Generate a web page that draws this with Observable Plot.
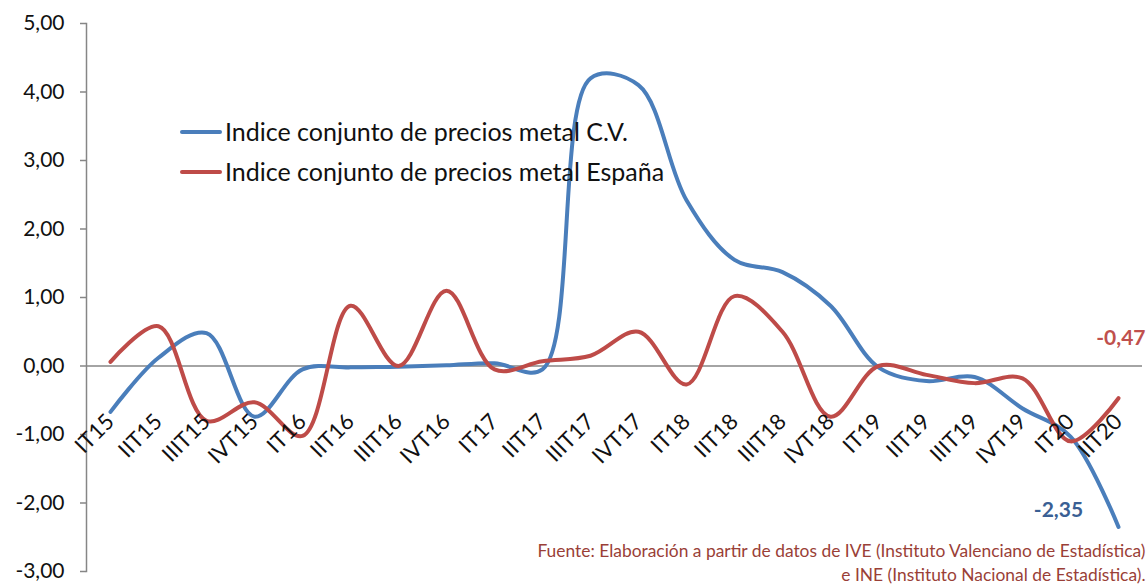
<!DOCTYPE html>
<html>
<head>
<meta charset="utf-8">
<script src="https://cdn.jsdelivr.net/npm/d3@7"></script>
<script src="https://cdn.jsdelivr.net/npm/@observablehq/plot@0.6"></script>
<style>
  html, body { margin: 0; padding: 0; background: #fff; }
  #chart svg { display: block; font-family: Lato, "Noto Sans", sans-serif; }
</style>
</head>
<body>
<div id="chart"></div>
<script>
const categories = ["IT15","IIT15","IIIT15","IVT15","IT16","IIT16","IIIT16","IVT16","IT17","IIT17","IIIT17","IVT17","IT18","IIT18","IIIT18","IVT18","IT19","IIT19","IIIT19","IVT19","IT20","IIT20"];
const seriesNames = ["Indice conjunto de precios metal C.V.", "Indice conjunto de precios metal España"];
const valuesCV = [-0.67, 0.12, 0.48, -0.74, -0.05, -0.02, -0.01, 0.01, 0.04, -0.05, 4.20, 4.10, 2.42, 1.55, 1.37, 0.88, -0.02, -0.22, -0.16, -0.62, -1.03, -2.35];
const valuesES = [0.06, 0.58, -0.80, -0.53, -1.02, 0.88, 0.00, 1.10, -0.05, 0.07, 0.15, 0.50, -0.27, 1.02, 0.50, -0.74, 0.00, -0.13, -0.25, -0.18, -1.10, -0.47];
const yTicks = [-3, -2, -1, 0, 1, 2, 3, 4, 5];
const caption = "Fuente: Elaboración a partir de datos de IVE (Instituto Valenciano de Estadística)\ne INE (Instituto Nacional de Estadística).";

const colors = ["#4A7EBB", "#BE4B48"];
const labelColors = ["#3A5F94", "#C0504D"];
const fmt = d => d.toFixed(2).replace(".", ",");

const data = [];
categories.forEach((c, i) => {
  data.push({cat: c, v: valuesCV[i], s: seriesNames[0]});
  data.push({cat: c, v: valuesES[i], s: seriesNames[1]});
});
const last = categories.length - 1;
const lastCV = [{cat: categories[last], v: valuesCV[last]}];
const lastES = [{cat: categories[last], v: valuesES[last]}];

const chart = Plot.plot({
  width: 1148,
  height: 585,
  marginLeft: 86,
  marginRight: 6,
  marginTop: 23,
  marginBottom: 14,
  style: {fontFamily: "Lato, 'Noto Sans', sans-serif", background: "#fff"},
  x: {type: "point", domain: categories, padding: 0.5, axis: null},
  y: {domain: [-3, 5], axis: null},
  color: {domain: seriesNames, range: colors},
  marks: [
    Plot.ruleY([0], {stroke: "#868686", strokeWidth: 1.5}),
    Plot.frame({anchor: "left", stroke: "#868686", strokeWidth: 1.5}),
    Plot.axisY({ticks: yTicks, tickFormat: fmt, tickSize: 6, tickPadding: 16, stroke: "#868686", strokeWidth: 1.5, fontSize: 21, fill: "#111", label: null}),
    Plot.line(data, {x: "cat", y: "v", z: "s", stroke: "s", strokeWidth: 4, curve: "catmull-rom"}),
    Plot.text(categories, {x: d => d, y: () => 0, text: d => d, rotate: -45, textAnchor: "end", dx: 0, dy: 52, fontSize: 22, fill: "#111"}),
    Plot.text(lastCV, {x: "cat", y: "v", text: d => fmt(d.v), dx: -60, dy: -17, fontSize: 21, fontWeight: "bold", fill: labelColors[0]}),
    Plot.text(lastES, {x: "cat", y: "v", text: d => fmt(d.v), textAnchor: "end", dx: 27, dy: -60, fontSize: 21, fontWeight: "bold", fill: labelColors[1]}),
    Plot.text([caption], {frameAnchor: "bottom-right", textAnchor: "end", lineAnchor: "bottom", dx: 3, dy: 9, fontSize: 17.4, lineHeight: 1.38, fill: "#9A3F37"})
  ]
});
document.getElementById("chart").append(chart);

// in-plot legend
const svg = d3.select(chart);
const lg = svg.append("g").attr("font-family", "Lato, 'Noto Sans', sans-serif").attr("text-anchor", "start");
seriesNames.forEach((name, i) => {
  const y = 132 + i * 40;
  lg.append("line").attr("x1", 182).attr("x2", 220).attr("y1", y).attr("y2", y)
    .attr("stroke", colors[i]).attr("stroke-width", 4).attr("stroke-linecap", "round");
  lg.append("text").attr("x", 225).attr("y", y).attr("dy", "0.35em")
    .attr("font-size", 25).attr("fill", "#111").text(name);
});
</script>
</body>
</html>
